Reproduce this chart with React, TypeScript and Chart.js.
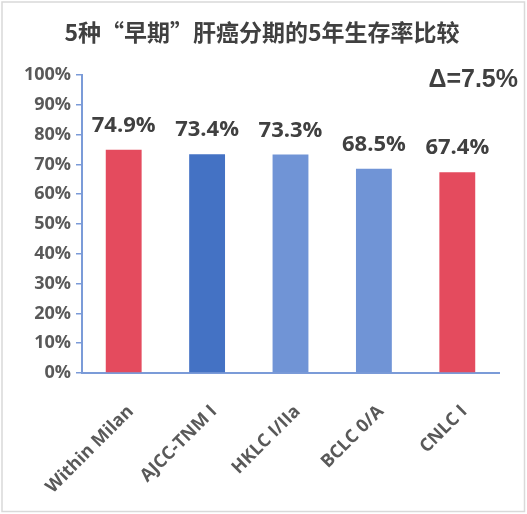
import React, { useEffect, useRef } from "react";
import { Chart, registerables } from "chart.js";

Chart.register(...registerables);

const TITLE = "5种“早期”肝癌分期的5年生存率比较";
const DELTA_TEXT = "Δ=7.5%";
const CATEGORIES = ["Within Milan", "AJCC-TNM I", "HKLC I/IIa", "BCLC 0/A", "CNLC I"];
const SURVIVAL = [74.9, 73.4, 73.3, 68.5, 67.4];
const BAR_COLORS = ["#E44B5E", "#4472C4", "#7094D6", "#7094D6", "#E44B5E"];
const Y_MIN = 0;
const Y_MAX = 100;
const Y_STEP = 10;

const AXIS_COLOR = "#7B9BD8";

const decorPlugin = {
  id: "decor",
  beforeDraw(chart: any) {
    const ctx = chart.ctx;
    ctx.save();
    ctx.fillStyle = "#ffffff";
    ctx.fillRect(0, 0, chart.width, chart.height);
    ctx.strokeStyle = "#D9D9D9";
    ctx.lineWidth = 1.5;
    ctx.strokeRect(2, 2, chart.width - 4.5, chart.height - 4.5);
    ctx.restore();
  },
  afterDraw(chart: any) {
    const ctx = chart.ctx;
    ctx.save();
    // title
    ctx.fillStyle = "#404040";
    ctx.font = "bold 23px 'Noto Sans CJK SC', 'Noto Sans', sans-serif";
    ctx.textAlign = "center";
    ctx.textBaseline = "middle";
    ctx.fillText(TITLE, 262, 32);
    // delta
    ctx.font = "bold 25px 'Liberation Sans', Arial, sans-serif";
    ctx.textAlign = "right";
    ctx.textBaseline = "alphabetic";
    ctx.fillText(DELTA_TEXT, 518, 87);
    // data labels
    const meta = chart.getDatasetMeta(0);
    ctx.font = "bold 22px 'Open Sans', sans-serif";
    ctx.textAlign = "center";
    ctx.fillStyle = "#404040";
    meta.data.forEach((el: any, i: number) => {
      ctx.fillText(SURVIVAL[i].toFixed(1) + "%", el.x, el.y - 18);
    });
    ctx.restore();
  },
};

export default function App() {
  const ref = useRef<HTMLCanvasElement>(null);
  useEffect(() => {
    if (!ref.current) return;
    const chart = new Chart(ref.current, {
      type: "bar",
      data: {
        labels: CATEGORIES,
        datasets: [
          {
            data: SURVIVAL,
            backgroundColor: BAR_COLORS,
            borderWidth: 0,
            barPercentage: 0.43,
            categoryPercentage: 1,
          },
        ],
      },
      options: {
        responsive: false,
        animation: false,
        layout: { padding: { top: 75, left: 0, right: 28, bottom: 0 } },
        plugins: {
          legend: { display: false },
          title: { display: false },
          tooltip: { enabled: false },
        },
        scales: {
          x: {
            grid: { display: false },
            border: { display: true, color: AXIS_COLOR, width: 2 },
            ticks: {
              minRotation: 45,
              maxRotation: 45,
              padding: 20,
              labelOffset: 7,
              color: "#595959",
              font: { family: "'Open Sans', sans-serif", size: 18, weight: "bold" },
            },
            afterFit: (scale: any) => {
              scale.height = 141;
            },
          },
          y: {
            min: Y_MIN,
            max: Y_MAX,
            grid: {
              display: true,
              drawOnChartArea: false,
              drawTicks: true,
              tickLength: 6,
              color: AXIS_COLOR,
              lineWidth: 1.5,
            },
            border: { display: true, color: AXIS_COLOR, width: 2 },
            ticks: {
              stepSize: Y_STEP,
              padding: 5,
              color: "#595959",
              font: { family: "'Open Sans', sans-serif", size: 18, weight: "bold" },
              callback: (v: any) => v + "%",
            },
            afterFit: (scale: any) => {
              scale.width = 82;
            },
          },
        },
      },
      plugins: [decorPlugin],
    });
    return () => chart.destroy();
  }, []);
  return (
    <div style={{ position: "fixed", left: 0, top: 0, width: 527, height: 514 }}>
      <canvas ref={ref} width={527} height={514} />
    </div>
  );
}
